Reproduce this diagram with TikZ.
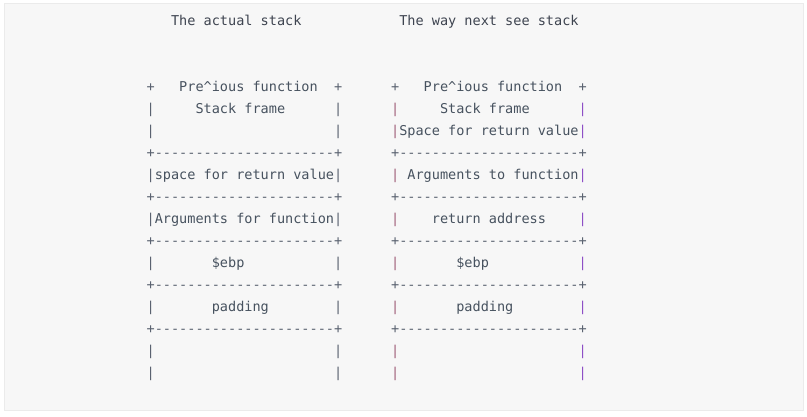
\documentclass[tikz,border=0pt]{standalone}
\usepackage{fontspec}
\setmonofont{DejaVu Sans Mono}
\definecolor{bg}{HTML}{F7F7F7}
\definecolor{edge}{HTML}{EBEBEB}
\definecolor{ink}{HTML}{47525F}
\definecolor{title}{HTML}{3E4450}
\definecolor{rule}{HTML}{5A6270}
\definecolor{lbar}{HTML}{A0607A}
\definecolor{rbar}{HTML}{8E4FC6}
\newcommand\cell[6]{\node[code,text=#5] (#1) at ({#2+#3*8.15},{91+#4*22}) {#6};}
\begin{document}
\begin{tikzpicture}[x=1bp,y=-1bp,
  code/.style={anchor=base west,inner sep=0pt,outer sep=0pt,
    font=\ttfamily\fontsize{13.54bp}{16bp}\selectfont}]
\useasboundingbox (0,0) rectangle (807,416);
\fill[white] (0,0) rectangle (807,416);
\draw[fill=bg,draw=edge] (4,3) rectangle (803,410);
\def\xa{146.6}
\def\xb{391.1}
% titles
\cell{t1}{\xa}{3}{-3}{title}{The actual stack}
\cell{t2}{\xa}{31}{-3}{title}{The way next see stack}
% column 1
\cell{a0l}{\xa}{0}{0}{rule}{+}
\cell{a0t}{\xa}{4}{0}{ink}{Pre\textasciicircum ious function}
\cell{a0r}{\xa}{23}{0}{rule}{+}
\cell{a1l}{\xa}{0}{1}{rule}{|}
\cell{a1t}{\xa}{6}{1}{ink}{Stack frame}
\cell{a1r}{\xa}{23}{1}{rule}{|}
\cell{a2l}{\xa}{0}{2}{rule}{|}
\cell{a2r}{\xa}{23}{2}{rule}{|}
\cell{a3}{\xa}{0}{3}{rule}{+----------------------+}
\cell{a4l}{\xa}{0}{4}{rule}{|}
\cell{a4t}{\xa}{1}{4}{ink}{space for return value}
\cell{a4r}{\xa}{23}{4}{rule}{|}
\cell{a5}{\xa}{0}{5}{rule}{+----------------------+}
\cell{a6l}{\xa}{0}{6}{rule}{|}
\cell{a6t}{\xa}{1}{6}{ink}{Arguments for function}
\cell{a6r}{\xa}{23}{6}{rule}{|}
\cell{a7}{\xa}{0}{7}{rule}{+----------------------+}
\cell{a8l}{\xa}{0}{8}{rule}{|}
\cell{a8t}{\xa}{8}{8}{ink}{\$ebp}
\cell{a8r}{\xa}{23}{8}{rule}{|}
\cell{a9}{\xa}{0}{9}{rule}{+----------------------+}
\cell{a10l}{\xa}{0}{10}{rule}{|}
\cell{a10t}{\xa}{8}{10}{ink}{padding}
\cell{a10r}{\xa}{23}{10}{rule}{|}
\cell{a11}{\xa}{0}{11}{rule}{+----------------------+}
\cell{a12l}{\xa}{0}{12}{rule}{|}
\cell{a12r}{\xa}{23}{12}{rule}{|}
\cell{a13l}{\xa}{0}{13}{rule}{|}
\cell{a13r}{\xa}{23}{13}{rule}{|}
% column 2
\cell{b0l}{\xb}{0}{0}{rule}{+}
\cell{b0t}{\xb}{4}{0}{ink}{Pre\textasciicircum ious function}
\cell{b0r}{\xb}{23}{0}{rule}{+}
\cell{b1l}{\xb}{0}{1}{lbar}{|}
\cell{b1t}{\xb}{6}{1}{ink}{Stack frame}
\cell{b1r}{\xb}{23}{1}{rbar}{|}
\cell{b2l}{\xb}{0}{2}{lbar}{|}
\cell{b2t}{\xb}{1}{2}{ink}{Space for return value}
\cell{b2r}{\xb}{23}{2}{rbar}{|}
\cell{b3}{\xb}{0}{3}{rule}{+----------------------+}
\cell{b4l}{\xb}{0}{4}{lbar}{|}
\cell{b4t}{\xb}{2}{4}{ink}{Arguments to function}
\cell{b4r}{\xb}{23}{4}{rbar}{|}
\cell{b5}{\xb}{0}{5}{rule}{+----------------------+}
\cell{b6l}{\xb}{0}{6}{lbar}{|}
\cell{b6t}{\xb}{5}{6}{ink}{return address}
\cell{b6r}{\xb}{23}{6}{rbar}{|}
\cell{b7}{\xb}{0}{7}{rule}{+----------------------+}
\cell{b8l}{\xb}{0}{8}{lbar}{|}
\cell{b8t}{\xb}{8}{8}{ink}{\$ebp}
\cell{b8r}{\xb}{23}{8}{rbar}{|}
\cell{b9}{\xb}{0}{9}{rule}{+----------------------+}
\cell{b10l}{\xb}{0}{10}{lbar}{|}
\cell{b10t}{\xb}{8}{10}{ink}{padding}
\cell{b10r}{\xb}{23}{10}{rbar}{|}
\cell{b11}{\xb}{0}{11}{rule}{+----------------------+}
\cell{b12l}{\xb}{0}{12}{lbar}{|}
\cell{b12r}{\xb}{23}{12}{rbar}{|}
\cell{b13l}{\xb}{0}{13}{lbar}{|}
\cell{b13r}{\xb}{23}{13}{rbar}{|}
\end{tikzpicture}
\end{document}
